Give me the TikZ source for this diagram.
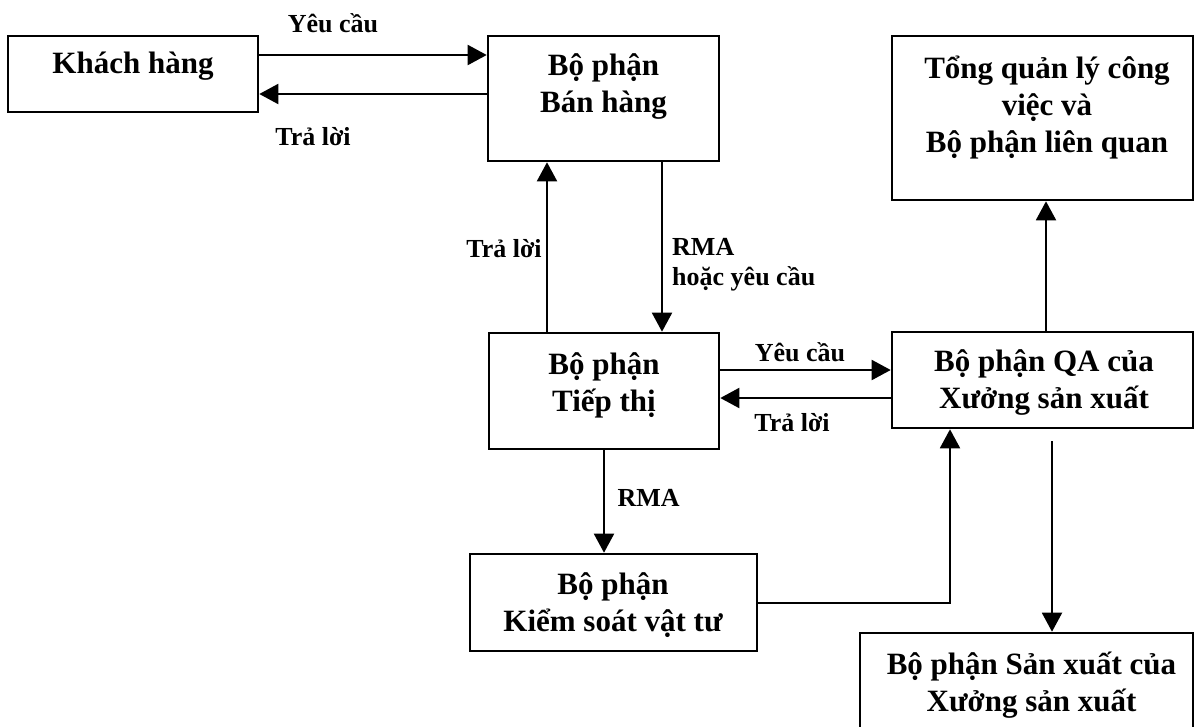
\documentclass[tikz,border=0pt]{standalone}
\usepackage{fontspec}
\setmainfont{Liberation Serif}
\usetikzlibrary{arrows.meta}

\tikzset{
  box/.style={draw, rectangle, line width=2.6pt, inner sep=0pt},
  boxtext/.style={inner sep=0pt, align=center,
    font=\fontsize{31}{37}\selectfont\bfseries},
  lbl/.style={inner sep=0pt, align=left,
    font=\fontsize{26}{30}\selectfont\bfseries},
  arr/.style={line width=2pt, -{Triangle[length=19pt,width=20pt]}}
}

\begin{document}
\begin{tikzpicture}[x=1pt, y=-1pt]
  \useasboundingbox (0,0) rectangle (1197,726);
  \clip (0,0) rectangle (1197,726);
  \fill[white] (0,0) rectangle (1197,726);

  % departments
  \node[box, minimum width=250pt, minimum height=76pt]  (kh) at (133,74) {};
  \node[box, minimum width=231pt, minimum height=125pt] (bh) at (603.5,98.5) {};
  \node[box, minimum width=301pt, minimum height=164pt] (tq) at (1042.5,118) {};
  \node[box, minimum width=301pt, minimum height=96pt]  (qa) at (1042.5,380) {};
  \node[box, minimum width=230pt, minimum height=116pt] (tt) at (604,391) {};
  \node[box, minimum width=287pt, minimum height=97pt]  (ks) at (613.5,602.5) {};
  \node[box, minimum width=333pt, minimum height=147pt] (sx) at (1026.5,706.5) {};

  % department names
  \node[boxtext] (khT) at (133,66)   {Khách hàng};
  \node[boxtext] (bhT) at (603.5,86) {Bộ phận\\Bán hàng};
  \node[boxtext] (tqT) at (1047,108) {Tổng quản lý công\\việc và\\Bộ phận liên quan};
  \node[boxtext] (qaT) at (1044,382) {Bộ phận QA của\\Xưởng sản xuất};
  \node[boxtext] (ttT) at (604,385)  {Bộ phận\\Tiếp thị};
  \node[boxtext] (ksT) at (613,605)  {Bộ phận\\Kiểm soát vật tư};
  \node[boxtext] (sxT) at (1031.5,685) {Bộ phận Sản xuất của\\Xưởng sản xuất};

  % routing levels
  \coordinate (r1) at (0,55);
  \coordinate (r2) at (0,94);
  \coordinate (r3) at (0,370);
  \coordinate (r4) at (0,398);
  \coordinate (c1) at (547,0);
  \coordinate (c2) at (662,0);
  \coordinate (c3) at (604,0);
  \coordinate (c4) at (1046,0);
  \coordinate (c5) at (950,0);
  \coordinate (c6) at (1052,0);
  \coordinate (qaout) at (1052,441);

  % flows
  \draw[arr] (kh.east |- r1) -- (bh.west |- r1);
  \draw[arr] (bh.west |- r2) -- (kh.east |- r2);
  \draw[arr] (tt.north -| c1) -- (bh.south -| c1);
  \draw[arr] (bh.south -| c2) -- (tt.north -| c2);
  \draw[arr] (tt.east |- r3) -- (qa.west |- r3);
  \draw[arr] (qa.west |- r4) -- (tt.east |- r4);
  \draw[arr] (qa.north -| c4) -- (tq.south -| c4);
  \draw[arr] (tt.south -| c3) -- (ks.north -| c3);
  \draw[arr] (ks.east) -| (qa.south -| c5);
  \draw[arr] (qaout) -- (sx.north -| c6);

  % flow labels
  \node[lbl] (l1) at (333,23)   {Yêu cầu};
  \node[lbl] (l2) at (313,137)  {Trả lời};
  \node[lbl] (l3) at (504,249)  {Trả lời};
  \node[lbl, anchor=west] (l4) at (672,264.5) {RMA\\hoặc yêu cầu};
  \node[lbl] (l5) at (800,352)  {Yêu cầu};
  \node[lbl] (l6) at (792,423)  {Trả lời};
  \node[lbl] (l7) at (648.6,497.5) {RMA};
\end{tikzpicture}
\end{document}
